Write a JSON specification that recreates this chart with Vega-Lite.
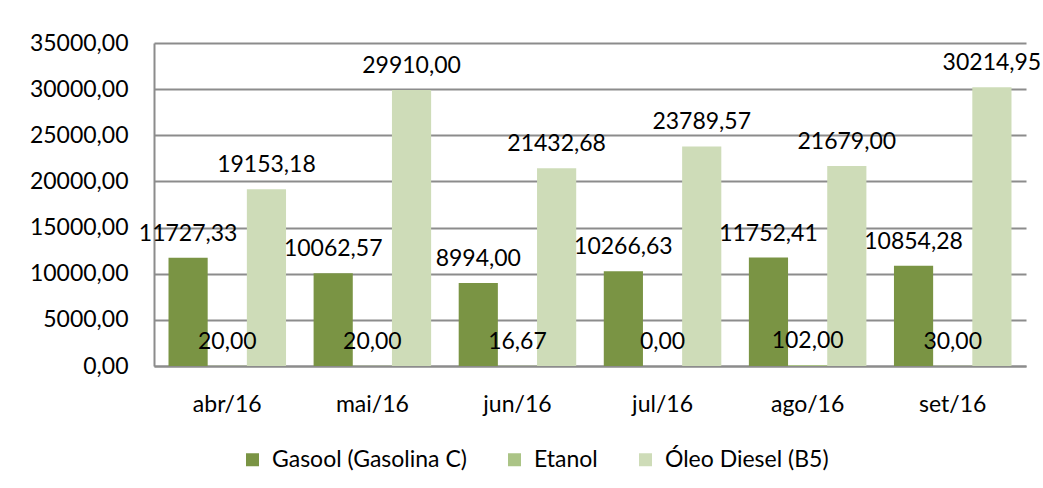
{
  "$schema": "https://vega.github.io/schema/vega-lite/v6.json",
  "autosize": {"type": "none"},
  "width": 872,
  "height": 323,
  "padding": {"left": 154, "top": 43, "right": 17, "bottom": 122},
  "background": "white",
  "config": {
    "locale": {"number": {"decimal": ",", "thousands": ".", "grouping": [3], "currency": ["R$", ""]}},
    "view": {"stroke": null},
    "font": "Lato",
    "axis": {"labelFont": "Lato", "labelFontSize": 23, "labelColor": "#000000", "ticks": false, "title": null}
  },
  "data": {
    "values": [
      {"mes": "abr/16", "serie": "Gasool (Gasolina C)", "valor": 11727.33},
      {"mes": "abr/16", "serie": "Etanol", "valor": 20.00},
      {"mes": "abr/16", "serie": "Óleo Diesel (B5)", "valor": 19153.18},
      {"mes": "mai/16", "serie": "Gasool (Gasolina C)", "valor": 10062.57},
      {"mes": "mai/16", "serie": "Etanol", "valor": 20.00},
      {"mes": "mai/16", "serie": "Óleo Diesel (B5)", "valor": 29910.00},
      {"mes": "jun/16", "serie": "Gasool (Gasolina C)", "valor": 8994.00},
      {"mes": "jun/16", "serie": "Etanol", "valor": 16.67},
      {"mes": "jun/16", "serie": "Óleo Diesel (B5)", "valor": 21432.68},
      {"mes": "jul/16", "serie": "Gasool (Gasolina C)", "valor": 10266.63},
      {"mes": "jul/16", "serie": "Etanol", "valor": 0.00},
      {"mes": "jul/16", "serie": "Óleo Diesel (B5)", "valor": 23789.57},
      {"mes": "ago/16", "serie": "Gasool (Gasolina C)", "valor": 11752.41},
      {"mes": "ago/16", "serie": "Etanol", "valor": 102.00},
      {"mes": "ago/16", "serie": "Óleo Diesel (B5)", "valor": 21679.00},
      {"mes": "set/16", "serie": "Gasool (Gasolina C)", "valor": 10854.28},
      {"mes": "set/16", "serie": "Etanol", "valor": 30.00},
      {"mes": "set/16", "serie": "Óleo Diesel (B5)", "valor": 30214.95}
    ]
  },
  "encoding": {
    "x": {
      "field": "mes", "type": "nominal", "sort": null,
      "scale": {"paddingInner": 0.19, "paddingOuter": 0.1},
      "axis": {"labelAngle": 0, "labelPadding": 27, "domainColor": "#8c8c8c", "domainWidth": 2, "grid": false}
    },
    "xOffset": {
      "field": "serie", "type": "nominal",
      "sort": ["Gasool (Gasolina C)", "Etanol", "Óleo Diesel (B5)"],
      "scale": {"paddingInner": 0, "paddingOuter": 0}
    },
    "y": {
      "field": "valor", "type": "quantitative",
      "scale": {"domain": [0, 35000], "nice": false},
      "axis": {"values": [0, 5000, 10000, 15000, 20000, 25000, 30000, 35000], "format": ".2f", "labelPadding": 26, "grid": true, "gridColor": "#8c8c8c", "gridWidth": 2, "domainColor": "#8c8c8c", "domainWidth": 2}
    }
  },
  "layer": [
    {
      "mark": {"type": "bar"},
      "encoding": {
        "color": {
          "field": "serie", "type": "nominal",
          "sort": ["Gasool (Gasolina C)", "Etanol", "Óleo Diesel (B5)"],
          "scale": {"domain": ["Gasool (Gasolina C)", "Etanol", "Óleo Diesel (B5)"], "range": ["#7A9444", "#ABC486", "#CEDCB8"]},
          "legend": {
            "title": null, "orient": "none", "direction": "horizontal",
            "legendX": 87, "legendY": 405, "padding": 0,
            "symbolType": "square", "symbolSize": 169, "symbolStrokeWidth": 0,
            "labelFont": "Lato", "labelFontSize": 23, "labelColor": "#000000",
            "labelOffset": 8, "columnPadding": 36, "labelLimit": 0
          }
        }
      }
    },
    {
      "mark": {"type": "text", "baseline": "alphabetic", "dy": -17, "fontSize": 23, "font": "Lato", "color": "#000000"},
      "encoding": {
        "text": {"field": "valor", "type": "quantitative", "format": ".2f"}
      }
    }
  ]
}
